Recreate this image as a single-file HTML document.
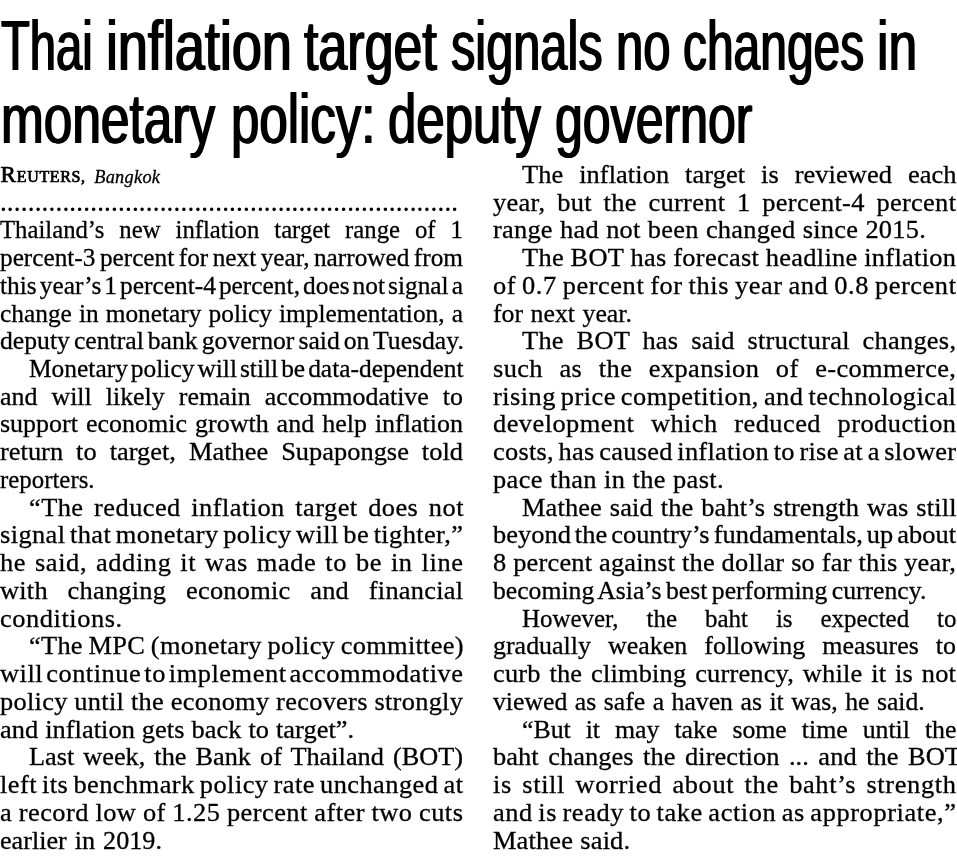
<!DOCTYPE html>
<html lang="en">
<head>
<meta charset="utf-8">
<title>Thai inflation target signals no changes in monetary policy: deputy governor</title>
<style>
html,body{margin:0;padding:0;background:#fff;}
body{width:957px;height:863px;position:relative;overflow:hidden;color:#000;
  font-family:"Liberation Serif",serif;will-change:transform;filter:grayscale(1);}
.hl{position:absolute;left:0;margin:0;height:0;line-height:0;white-space:nowrap;
  font-family:"Liberation Sans",sans-serif;font-weight:400;font-size:69.5px;}
.hl span{position:absolute;top:0;transform-origin:0 0;white-space:nowrap;
  text-shadow:1.1px 0 0 #000,-1.1px 0 0 #000;}
.by{position:absolute;left:0;margin:0;white-space:nowrap;height:0;line-height:0;font-size:16px;}
.by b{font-weight:400;-webkit-text-stroke:0.7px #000;letter-spacing:0.62px;}
.by b span{font-size:23px;letter-spacing:0.9px;}
.by i{position:absolute;top:1.59px;left:93.6px;font-size:18.3px;letter-spacing:0.3px;-webkit-text-stroke:0.3px #000;}
.dots{position:absolute;left:-0.33px;margin:0;white-space:nowrap;height:0;line-height:0;font-size:29px;letter-spacing:-0.305px;}
.l{position:absolute;margin:0;height:0;line-height:0;font-size:25.5px;white-space:nowrap;transform-origin:0 0;-webkit-text-stroke:0.3px #000;}
</style>
</head>
<body>
<h1 class="hl" id="h1" style="top:46.22px"><span id="h1_0" style="left:1.11px;transform:scaleX(0.6785)">Thai</span> <span id="h1_1" style="left:105.58px;transform:scaleX(0.7755)">inflation</span> <span id="h1_2" style="left:304.48px;transform:scaleX(0.7470)">target</span> <span id="h1_3" style="left:450.56px;transform:scaleX(0.7008)">signals</span> <span id="h1_4" style="left:615.86px;transform:scaleX(0.7062)">no</span> <span id="h1_5" style="left:683.09px;transform:scaleX(0.6894)">changes</span> <span id="h1_6" style="left:876.71px;transform:scaleX(0.7432)">in</span></h1>
<h1 class="hl" id="h2" style="top:119.22px"><span id="h2_0" style="left:1.49px;transform:scaleX(0.7391)">monetary</span> <span id="h2_1" style="left:230.77px;transform:scaleX(0.7333)">policy:</span> <span id="h2_2" style="left:388.00px;transform:scaleX(0.7327)">deputy</span> <span id="h2_3" style="left:555.04px;transform:scaleX(0.7199)">governor</span></h1>
<p class="by" id="by" style="top:175.14px;left:0.6px"><b><span>R</span>EUTERS,</b> <i>Bangkok</i></p>
<p class="dots" id="dots" style="top:200.8px">..................................................................</p>
<p class="l" id="L2" style="left:0.0px;top:230.30px;transform:scaleX(0.9694);word-spacing:9.098px">Thailand’s new inflation target range of 1</p>
<p class="l" id="L3" style="left:0.0px;top:258.04px;transform:scaleX(0.9908);word-spacing:-1.833px">percent-3 percent for next year, narrowed from</p>
<p class="l" id="L4" style="left:0.0px;top:285.78px;transform:scaleX(0.9961);word-spacing:-3.363px">this year’s 1 percent-4 percent, does not signal a</p>
<p class="l" id="L5" style="left:0.0px;top:313.52px;transform:scaleX(0.9956);word-spacing:0.656px">change in monetary policy implementation, a</p>
<p class="l" id="L6" style="left:0.0px;top:341.26px;transform:scaleX(1.0072);word-spacing:-2.403px">deputy central bank governor said on Tuesday.</p>
<p class="l" id="L7" style="left:28.5px;top:369.00px;transform:scaleX(0.9972);word-spacing:-3.367px">Monetary policy will still be data-dependent</p>
<p class="l" id="L8" style="left:0.0px;top:396.74px;transform:scaleX(1.0164);word-spacing:7.400px">and will likely remain accommodative to</p>
<p class="l" id="L9" style="left:0.0px;top:424.48px;transform:scaleX(1.0192);word-spacing:1.474px">support economic growth and help inflation</p>
<p class="l" id="L10" style="left:0.0px;top:452.22px;transform:scaleX(1.0350);letter-spacing:0.015px;word-spacing:6.155px">return to target, Mathee Supapongse told</p>
<p class="l" id="L11" style="left:0.0px;top:479.96px;transform:scaleX(0.9747)">reporters.</p>
<p class="l" id="L12" style="left:28.5px;top:507.70px;transform:scaleX(1.0350);letter-spacing:0.432px;word-spacing:3.390px">“The reduced inflation target does not</p>
<p class="l" id="L13" style="left:0.0px;top:535.44px;transform:scaleX(1.0350);letter-spacing:0.379px;word-spacing:-2.302px">signal that monetary policy will be tighter,”</p>
<p class="l" id="L14" style="left:0.0px;top:563.18px;transform:scaleX(1.0350);letter-spacing:0.577px;word-spacing:1.649px">he said, adding it was made to be in line</p>
<p class="l" id="L15" style="left:0.0px;top:590.92px;transform:scaleX(1.0350);letter-spacing:0.225px;word-spacing:12.499px">with changing economic and financial</p>
<p class="l" id="L16" style="left:0.0px;top:618.66px;transform:scaleX(1.0350);letter-spacing:0.539px">conditions.</p>
<p class="l" id="L17" style="left:28.5px;top:646.40px;transform:scaleX(1.0350);letter-spacing:0.263px;word-spacing:-1.104px">“The MPC (monetary policy committee)</p>
<p class="l" id="L18" style="left:0.0px;top:674.14px;transform:scaleX(1.0350);letter-spacing:0.516px;word-spacing:-4.025px">will continue to implement accommodative</p>
<p class="l" id="L19" style="left:0.0px;top:701.88px;transform:scaleX(1.0350);letter-spacing:0.271px;word-spacing:-0.154px">policy until the economy recovers strongly</p>
<p class="l" id="L20" style="left:0.0px;top:729.62px;transform:scaleX(1.0350);letter-spacing:0.032px;word-spacing:0.323px">and inflation gets back to target”.</p>
<p class="l" id="L21" style="left:28.5px;top:757.36px;transform:scaleX(1.0313);word-spacing:2.352px">Last week, the Bank of Thailand (BOT)</p>
<p class="l" id="L22" style="left:0.0px;top:785.10px;transform:scaleX(1.0350);letter-spacing:0.442px;word-spacing:-1.945px">left its benchmark policy rate unchanged at</p>
<p class="l" id="L23" style="left:0.0px;top:812.84px;transform:scaleX(1.0350);letter-spacing:0.445px;word-spacing:-0.503px">a record low of 1.25 percent after two cuts</p>
<p class="l" id="L24" style="left:0.0px;top:840.58px;transform:scaleX(1.0254);word-spacing:1.426px">earlier in 2019.</p>
<p class="l" id="R0" style="left:521.5px;top:174.82px;transform:scaleX(1.0350);letter-spacing:0.064px;word-spacing:8.956px">The inflation target is reviewed each</p>
<p class="l" id="R1" style="left:493.0px;top:202.56px;transform:scaleX(1.0350);letter-spacing:0.304px;word-spacing:4.611px">year, but the current 1 percent-4 percent</p>
<p class="l" id="R2" style="left:493.0px;top:230.30px;transform:scaleX(1.0350);letter-spacing:0.231px;word-spacing:0.409px">range had not been changed since 2015.</p>
<p class="l" id="R3" style="left:521.5px;top:258.04px;transform:scaleX(1.0350);letter-spacing:0.280px;word-spacing:-0.172px">The BOT has forecast headline inflation</p>
<p class="l" id="R4" style="left:493.0px;top:285.78px;transform:scaleX(1.0350);letter-spacing:0.546px;word-spacing:-1.187px">of 0.7 percent for this year and 0.8 percent</p>
<p class="l" id="R5" style="left:493.0px;top:313.52px;transform:scaleX(1.0118);word-spacing:1.037px">for next year.</p>
<p class="l" id="R6" style="left:521.5px;top:341.26px;transform:scaleX(1.0350);letter-spacing:0.258px;word-spacing:5.670px">The BOT has said structural changes,</p>
<p class="l" id="R7" style="left:493.0px;top:369.00px;transform:scaleX(1.0350);letter-spacing:0.361px;word-spacing:9.328px">such as the expansion of e-commerce,</p>
<p class="l" id="R8" style="left:493.0px;top:396.74px;transform:scaleX(1.0350);letter-spacing:0.430px;word-spacing:-1.922px">rising price competition, and technological</p>
<p class="l" id="R9" style="left:493.0px;top:424.48px;transform:scaleX(1.0350);letter-spacing:0.443px;word-spacing:9.165px">development which reduced production</p>
<p class="l" id="R10" style="left:493.0px;top:452.22px;transform:scaleX(1.0350);letter-spacing:0.238px;word-spacing:-2.020px">costs, has caused inflation to rise at a slower</p>
<p class="l" id="R11" style="left:493.0px;top:479.96px;transform:scaleX(1.0350);letter-spacing:0.368px;word-spacing:0.135px">pace than in the past.</p>
<p class="l" id="R12" style="left:521.5px;top:507.70px;transform:scaleX(1.0350);letter-spacing:0.133px;word-spacing:1.089px">Mathee said the baht’s strength was still</p>
<p class="l" id="R13" style="left:493.0px;top:535.44px;transform:scaleX(1.0350);letter-spacing:0.030px;word-spacing:-2.571px">beyond the country’s fundamentals, up about</p>
<p class="l" id="R14" style="left:493.0px;top:563.18px;transform:scaleX(1.0350);letter-spacing:0.190px;word-spacing:0.009px">8 percent against the dollar so far this year,</p>
<p class="l" id="R15" style="left:493.0px;top:590.92px;transform:scaleX(1.0066);word-spacing:-1.904px">becoming Asia’s best performing currency.</p>
<p class="l" id="R16" style="left:521.5px;top:618.66px;transform:scaleX(0.9773);word-spacing:22.276px">However, the baht is expected to</p>
<p class="l" id="R17" style="left:493.0px;top:646.40px;transform:scaleX(1.0178);word-spacing:10.328px">gradually weaken following measures to</p>
<p class="l" id="R18" style="left:493.0px;top:674.14px;transform:scaleX(1.0350);letter-spacing:0.178px;word-spacing:1.965px">curb the climbing currency, while it is not</p>
<p class="l" id="R19" style="left:493.0px;top:701.88px;transform:scaleX(1.0088);word-spacing:1.060px">viewed as safe a haven as it was, he said.</p>
<p class="l" id="R20" style="left:521.5px;top:729.62px;transform:scaleX(1.0113);word-spacing:8.457px">“But it may take some time until the</p>
<p class="l" id="R21" style="left:493.0px;top:757.36px;transform:scaleX(1.0350);letter-spacing:0.073px;word-spacing:2.658px">baht changes the direction ... and the BOT</p>
<p class="l" id="R22" style="left:493.0px;top:785.10px;transform:scaleX(1.0350);letter-spacing:0.624px;word-spacing:3.005px">is still worried about the baht’s strength</p>
<p class="l" id="R23" style="left:493.0px;top:812.84px;transform:scaleX(1.0350);letter-spacing:0.572px;word-spacing:-1.721px">and is ready to take action as appropriate,”</p>
<p class="l" id="R24" style="left:493.0px;top:840.58px;transform:scaleX(1.0350);letter-spacing:0.139px;word-spacing:0.594px">Mathee said.</p>
</body>
</html>
